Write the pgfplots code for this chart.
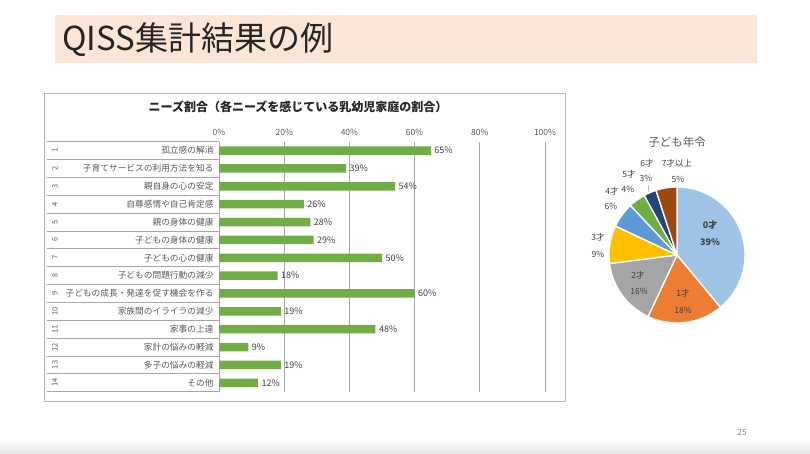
\documentclass[border=0pt]{standalone}
\usepackage{fontspec}
\setmainfont{Noto Sans CJK JP}
\usepackage{pgfplots}
\usepackage{pgfplotstable}
\pgfplotsset{compat=1.18}

\definecolor{barGreen}{HTML}{70AD47}
\definecolor{gridgray}{HTML}{A6A6A6}
\definecolor{labgray}{HTML}{595959}
\definecolor{valgray}{HTML}{404040}
\definecolor{peach}{HTML}{FBE5D6}
\definecolor{c0}{HTML}{9DC3E6}
\definecolor{c1}{HTML}{ED7D31}
\definecolor{c2}{HTML}{A5A5A5}
\definecolor{c3}{HTML}{FFC000}
\definecolor{c4}{HTML}{5B9BD5}
\definecolor{c5}{HTML}{70AD47}
\definecolor{c6}{HTML}{264478}
\definecolor{c7}{HTML}{9E480E}

% pie: share of children by age (percent), drawn clockwise from 12 o'clock
\pgfplotstableread{
val col
39 c0
18 c1
16 c2
9  c3
6  c4
4  c5
3  c6
5  c7
}\pietable

\newcommand{\fs}[1]{\fontsize{#1}{#1}\selectfont}

\begin{document}
\begin{tikzpicture}
\begin{scope}[x=1pt,y=1pt]
  \fill[white] (0,0) rectangle (810,453);
  \shade[top color=white,bottom color=black!10] (0,0) rectangle (810,14);
  % slide title
  \fill[peach] (55,390) rectangle (757,438);
  \node[anchor=west,text=black!85,inner sep=0] at (62,413) {\fs{33}QISS集計結果の例};
  % chart frame
  \draw[black!28,line width=0.9pt] (44,360) rectangle (565,52);
  \node[font=\fs{12}\bfseries,text=black!85] at (298,346)
    {ニーズ割合（各ニーズを感じている乳幼児家庭の割合）};
  % row numbers
  \foreach \i in {1,...,14}
    \node[rotate=90,text=labgray,font=\fs{7.5}] at (55,{311.3-(\i-0.5)*17.857}) {\i};
  % page number
  \node[text=black!50,font=\fs{8.5}] at (742,21) {25};
\end{scope}

\begin{axis}[
  at={(219pt,61.3pt)}, anchor=south west,
  scale only axis, width=326pt, height=250pt,
  xbar, bar width=8.5pt,
  xmin=0, xmax=100, ymin=0.5, ymax=14.5, y dir=reverse,
  xtick={0,20,...,100},
  xticklabel={\pgfmathprintnumber{\tick}\%},
  xticklabel pos=upper,
  ytick={1,...,14},
  yticklabels={孤立感の解消,子育てサービスの利用方法を知る,親自身の心の安定,自尊感情や自己肯定感,親の身体の健康,子どもの身体の健康,子どもの心の健康,子どもの問題行動の減少,子どもの成長・発達を促す機会を作る,家族間のイライラの減少,家事の上達,家計の悩みの軽減,多子の悩みの軽減,その他},
  minor ytick={0.5,1.5,...,14.5},
  ytick pos=left,
  tick align=outside,
  major tick length=0pt, minor tick length=172pt,
  minor tick style={draw=gridgray,line width=0.9pt},
  xmajorgrids, grid style={draw=gridgray,line width=0.9pt},
  axis line style={draw=none},
  /pgf/number format/assume math mode=true,
  xticklabel style={font=\fs{8.5},text=labgray,yshift=3pt},
  yticklabel style={font=\fs{8.7},text=labgray,xshift=-2pt},
  nodes near coords={\pgfmathprintnumber{\pgfplotspointmeta}\%},
  every node near coord/.append style={font=\fs{9},text=valgray,anchor=west},
]
\addplot[fill=barGreen,draw=none] coordinates {
  (65,1) (39,2) (54,3) (26,4) (28,5) (29,6) (50,7)
  (18,8) (60,9) (19,10) (48,11) (9,12) (19,13) (12,14)
};
\end{axis}

\begin{axis}[
  at={(677pt,198pt)}, anchor=center,
  scale only axis, width=136pt, height=136pt,
  xmin=-1, xmax=1, ymin=-1, ymax=1, hide axis,
]
\pgfplotsextra{
  \xdef\startang{90}
  \foreach \r in {0,...,7} {
    \pgfplotstablegetelem{\r}{val}\of\pietable \let\sliceval\pgfplotsretval
    \pgfplotstablegetelem{\r}{col}\of\pietable \let\slicecol\pgfplotsretval
    \pgfmathsetmacro\endang{\startang-3.6*\sliceval}
    \fill[fill=\slicecol,draw=white,line width=1.3pt]
      (axis cs:0,0) -- (axis cs:{cos(\startang)},{sin(\startang)})
      arc[start angle=\startang,end angle=\endang,radius=68pt] -- cycle;
    \xdef\startang{\endang}
  }
}
\end{axis}

\begin{scope}[x=1pt,y=1pt,font=\fs{8.5},text=valgray]
  \node[text=labgray,font=\fs{11.5}] at (677,311) {子ども年令};
  \node[font=\fs{9}\bfseries] at (710,228) {0才};
  \node[font=\fs{9}\bfseries] at (710,211) {39\%};
  \node at (683,160) {1才};   \node at (683,143) {18\%};
  \node at (638,178) {2才};   \node at (639,162) {16\%};
  \node at (598,216) {3才};   \node at (598,199) {9\%};
  \node at (612,262) {4才};   \node at (611,247) {6\%};
  \node at (629,279) {5才};   \node at (628,264) {4\%};
  \node at (647,290) {6才};   \node at (646,275) {3\%};
  \node at (677,290) {7才以上}; \node at (678,274) {5\%};
  \draw[black!45,line width=0.5pt] (648,268) -- (649,261);
\end{scope}
\end{tikzpicture}
\end{document}
